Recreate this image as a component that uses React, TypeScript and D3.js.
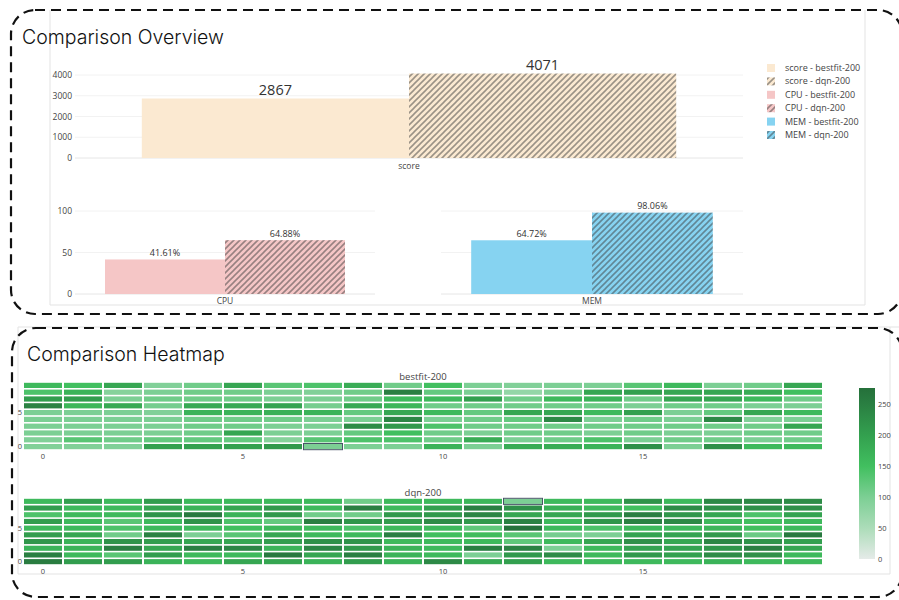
import React from 'react';
import * as d3 from 'd3';

// ---------- DATA ----------
const scoreCategories = ['score'];
const scoreBestfit = [2867];
const scoreDqn = [4071];
const scoreTicks = [0, 1000, 2000, 3000, 4000];

const resourceCategories = ['CPU', 'MEM'];
const resourceBestfit = [41.61, 64.72];
const resourceDqn = [64.88, 98.06];
const resourceTicks = [0, 50, 100];

const seriesNames = ['bestfit-200', 'dqn-200'];
const legendItems = [
  'score - bestfit-200',
  'score - dqn-200',
  'CPU - bestfit-200',
  'CPU - dqn-200',
  'MEM - bestfit-200',
  'MEM - dqn-200',
];

const heatColumns = d3.range(20);
const heatRows = d3.range(10);
const heatXTicks = [0, 5, 10, 15];
const heatYTicks = [0, 5];
const colorbarTicks = [0, 50, 100, 150, 200, 250];

// rows listed top (row 9) to bottom (row 0)
const bestfitRowsTopDown = [
  [160, 150, 190, 95, 110, 190, 130, 140, 180, 110, 150, 100, 95, 100, 100, 130, 160, 100, 110, 190],
  [140, 170, 90, 100, 110, 110, 100, 95, 110, 250, 120, 100, 75, 100, 190, 200, 190, 190, 180, 150],
  [205, 205, 100, 110, 110, 110, 100, 100, 110, 160, 160, 200, 110, 160, 170, 110, 190, 190, 160, 110],
  [245, 165, 185, 105, 185, 185, 195, 105, 185, 165, 110, 110, 110, 110, 110, 100, 110, 110, 100, 100],
  [100, 100, 100, 95, 170, 170, 175, 170, 120, 190, 160, 120, 190, 190, 160, 200, 100, 120, 190, 160],
  [100, 100, 100, 100, 110, 110, 110, 100, 100, 240, 100, 110, 120, 235, 100, 110, 100, 235, 95, 100],
  [100, 100, 100, 100, 110, 110, 100, 100, 230, 210, 140, 110, 110, 110, 110, 110, 110, 110, 110, 190],
  [100, 100, 100, 100, 110, 190, 100, 100, 120, 150, 110, 100, 110, 110, 100, 110, 100, 100, 110, 110],
  [95, 130, 110, 120, 120, 120, 90, 130, 140, 140, 110, 180, 100, 110, 140, 100, 110, 110, 100, 110],
  [95, 95, 95, 200, 200, 200, 210, 100, 100, 100, 170, 100, 180, 180, 170, 225, 100, 225, 160, 160],
];

const dqnRowsTopDown = [
  [160, 200, 160, 205, 160, 160, 160, 160, 110, 160, 160, 165, 100, 160, 160, 220, 160, 235, 235, 230],
  [205, 160, 160, 190, 170, 190, 210, 160, 250, 160, 200, 250, 225, 175, 160, 150, 230, 225, 225, 225],
  [140, 160, 160, 220, 260, 170, 210, 110, 110, 210, 210, 240, 190, 190, 210, 250, 215, 190, 140, 195],
  [205, 160, 130, 160, 220, 140, 120, 250, 215, 205, 230, 210, 245, 160, 215, 245, 235, 160, 150, 160],
  [160, 160, 140, 160, 160, 150, 160, 160, 140, 160, 160, 125, 272, 160, 140, 160, 160, 165, 150, 160],
  [205, 190, 110, 245, 100, 130, 190, 160, 160, 250, 150, 155, 130, 105, 100, 195, 195, 210, 115, 260],
  [215, 170, 220, 205, 190, 190, 205, 225, 220, 160, 160, 160, 125, 160, 190, 225, 190, 240, 220, 200],
  [170, 170, 250, 190, 250, 240, 170, 240, 210, 170, 160, 250, 245, 100, 160, 195, 195, 215, 250, 190],
  [250, 160, 130, 205, 160, 160, 260, 190, 250, 170, 160, 100, 210, 230, 160, 210, 200, 230, 225, 160],
  [255, 205, 205, 170, 160, 190, 190, 170, 205, 170, 235, 185, 200, 160, 160, 160, 160, 170, 160, 160],
];

const bestfitHighlight = { col: 7, row: 0 };
const dqnHighlight = { col: 12, row: 9 };

// ---------- STYLE ----------
const FONT = '"Open Sans", "Noto Sans", sans-serif';
const TITLE_FONT = 'Inter, "Open Sans", sans-serif';
const resourceColors: Record<string, string> = {
  score: '#fbe9d1',
  CPU: '#f5c6c6',
  MEM: '#86d3f1',
};

const colorDomain = [0, 50, 100, 150, 200, 250, 276];
const colorRange = ['#e5ebe8', '#acdcb9', '#7ccf94', '#41bf5f', '#33a04f', '#2a7f42', '#25703a'];
const heatColor = d3.scaleLinear<string>().domain(colorDomain).range(colorRange).clamp(true);

function HatchDefs() {
  return (
    <defs>
      {Object.keys(resourceColors).map((k) => (
        <pattern key={k} id={`hatch-${k}`} patternUnits="userSpaceOnUse" width={6} height={6}>
          <rect width={6} height={6} fill={resourceColors[k]} />
          <path d="M0,6 L6,0 M-1.5,1.5 L1.5,-1.5 M4.5,7.5 L7.5,4.5" stroke="rgba(60,60,60,0.5)" strokeWidth={1.6} />
        </pattern>
      ))}
      <linearGradient id="cbar" x1="0" y1="1" x2="0" y2="0">
        {colorDomain.map((v, i) => (
          <stop key={i} offset={v / 276} stopColor={colorRange[i]} />
        ))}
      </linearGradient>
    </defs>
  );
}

function BarGroup({ cat, bx, yScale, vals, labels }: any) {
  const x1 = d3.scaleBand<string>().domain(seriesNames).range([0, bx.bandwidth()]);
  const x0 = bx(cat)!;
  const y0 = yScale(0);
  return (
    <g>
      {seriesNames.map((s, i) => {
        const v = vals[i];
        const x = x0 + x1(s)!;
        const y = yScale(v);
        return (
          <g key={s}>
            <rect
              x={x}
              y={y}
              width={x1.bandwidth()}
              height={y0 - y}
              fill={i === 0 ? resourceColors[cat] : `url(#hatch-${cat})`}
            />
            <text
              x={x + x1.bandwidth() / 2}
              y={y - 3.5}
              textAnchor="middle"
              fontSize={labels.size}
              fill="#333"
              fontFamily={FONT}
            >
              {labels.text[i]}
            </text>
          </g>
        );
      })}
    </g>
  );
}

function Heatmap({ title, rowsTopDown, top, bottom, highlight }: any) {
  const x = d3.scaleBand<number>().domain(heatColumns).range([23, 823]);
  const y = d3.scaleBand<number>().domain(heatRows).range([bottom, top]);
  const cells: any[] = [];
  rowsTopDown.forEach((row: number[], i: number) => {
    const r = heatRows.length - 1 - i;
    row.forEach((v, c) => cells.push({ r, c, v }));
  });
  const gx = 1;
  const gy = 0.8;
  return (
    <g>
      <text x={423} y={top - 2.5} textAnchor="middle" fontSize={9.5} fill="#444" fontFamily={FONT}>
        {title}
      </text>
      {cells.map((d) => (
        <rect
          key={`${d.r}-${d.c}`}
          x={x(d.c)! + gx}
          y={y(d.r)! + gy}
          width={x.bandwidth() - 2 * gx}
          height={y.bandwidth() - 2 * gy}
          fill={heatColor(d.v)}
        />
      ))}
      <rect
        x={x(highlight.col)! + 0.5}
        y={y(highlight.row)! + 0.3}
        width={x.bandwidth() - 1}
        height={y.bandwidth() - 0.6}
        fill="none"
        stroke="#4a5568"
        strokeWidth={1}
      />
      {heatXTicks.map((t) => (
        <text
          key={t}
          x={x(t)! + x.bandwidth() / 2}
          y={bottom + 9}
          textAnchor="middle"
          fontSize={7.5}
          fill="#444"
          fontFamily={FONT}
        >
          {t}
        </text>
      ))}
      {heatYTicks.map((t) => (
        <text
          key={t}
          x={22}
          y={y(t)! + y.bandwidth() / 2 + 2.6}
          textAnchor="end"
          fontSize={7.5}
          fill="#444"
          fontFamily={FONT}
        >
          {t}
        </text>
      ))}
    </g>
  );
}

export default function App() {
  // score subplot
  const scoreX = d3.scaleBand<string>().domain(scoreCategories).range([75, 743]).paddingInner(0.2).paddingOuter(0.1);
  const scoreY = d3.scaleLinear().domain([0, 4000]).range([158, 75]);
  // resource subplots
  const resY = d3.scaleLinear().domain([0, 100]).range([294, 211]);
  const resRanges: Record<string, [number, number]> = { CPU: [75, 375], MEM: [441, 743] };
  const cbY = d3.scaleLinear().domain([0, 276]).range([559, 388]);

  return (
    <svg
      width={899}
      height={600}
      style={{ position: 'absolute', left: 0, top: 0, background: '#fff' }}
      fontFamily={FONT}
    >
      <HatchDefs />
      {/* containers */}
      <g stroke="#e3e3e3" strokeWidth={1} fill="none">
        <line x1={50} y1={10} x2={50} y2={305} />
        <line x1={865} y1={10} x2={865} y2={305} />
        <line x1={50} y1={305} x2={865} y2={305} />
        <line x1={18} y1={327} x2={899} y2={327} />
        <line x1={18} y1={327} x2={18} y2={574} />
        <line x1={18} y1={574} x2={890} y2={574} />
        <line x1={890} y1={327} x2={890} y2={574} />
      </g>

      {/* titles */}
      <text x={22} y={44} fontSize={19.5} fontWeight={300} fill="#111" fontFamily={TITLE_FONT}>
        Comparison Overview
      </text>
      <text x={27} y={361} fontSize={19.5} fontWeight={300} fill="#111" fontFamily={TITLE_FONT}>
        Comparison Heatmap
      </text>

      {/* score subplot */}
      {scoreTicks.map((t) => (
        <g key={t}>
          <line x1={75} x2={743} y1={scoreY(t)} y2={scoreY(t)} stroke={t === 0 ? '#e6e6e6' : '#f2f2f2'} strokeWidth={1} />
          <text x={72} y={scoreY(t) + 3} textAnchor="end" fontSize={8.5} fill="#444">
            {t}
          </text>
        </g>
      ))}
      {scoreCategories.map((c, i) => (
        <g key={c}>
          <BarGroup
            cat={c}
            bx={scoreX}
            yScale={scoreY}
            vals={[scoreBestfit[i], scoreDqn[i]]}
            labels={{ size: 14.5, text: [String(scoreBestfit[i]), String(scoreDqn[i])] }}
          />
          <text x={scoreX(c)! + scoreX.bandwidth() / 2} y={168.5} textAnchor="middle" fontSize={8.5} fill="#444">
            {c}
          </text>
        </g>
      ))}

      {/* resource subplots */}
      {resourceCategories.map((c, i) => {
        const [a, b] = resRanges[c];
        const bx = d3.scaleBand<string>().domain([c]).range([a, b]).paddingInner(0.2).paddingOuter(0.1);
        return (
          <g key={c}>
            {resourceTicks.map((t) => (
              <line key={t} x1={a} x2={b} y1={resY(t)} y2={resY(t)} stroke={t === 0 ? '#e6e6e6' : '#f2f2f2'} strokeWidth={1} />
            ))}
            <BarGroup
              cat={c}
              bx={bx}
              yScale={resY}
              vals={[resourceBestfit[i], resourceDqn[i]]}
              labels={{ size: 9, text: [`${resourceBestfit[i].toFixed(2)}%`, `${resourceDqn[i].toFixed(2)}%`] }}
            />
            <text x={bx(c)! + bx.bandwidth() / 2} y={303.5} textAnchor="middle" fontSize={8.5} fill="#444">
              {c}
            </text>
          </g>
        );
      })}
      {resourceTicks.map((t) => (
        <text key={t} x={72} y={resY(t) + 3} textAnchor="end" fontSize={8.5} fill="#444">
          {t}
        </text>
      ))}

      {/* legend */}
      {legendItems.map((name, i) => {
        const cat = name.split(' - ')[0];
        const hatched = i % 2 === 1;
        const cy = 68 + i * 13.4;
        return (
          <g key={name}>
            <rect x={767} y={cy - 4} width={8} height={8} fill={hatched ? `url(#hatch-${cat})` : resourceColors[cat]} />
            <text x={785} y={cy + 3} fontSize={9} fill="#444">
              {name}
            </text>
          </g>
        );
      })}

      {/* heatmaps */}
      <Heatmap title="bestfit-200" rowsTopDown={bestfitRowsTopDown} top={382} bottom={450} highlight={bestfitHighlight} />
      <Heatmap title="dqn-200" rowsTopDown={dqnRowsTopDown} top={498} bottom={565} highlight={dqnHighlight} />

      {/* colorbar */}
      <rect x={859} y={cbY(276)} width={16} height={cbY(0) - cbY(276)} fill="url(#cbar)" />
      {colorbarTicks.map((t) => (
        <text key={t} x={878} y={cbY(t) + 2.6} fontSize={7.5} fill="#444">
          {t}
        </text>
      ))}

      {/* dashed annotation boxes */}
      <rect x={11} y={10} width={891} height={304} rx={24} fill="none" stroke="#111" strokeWidth={2.2} strokeDasharray="10 6" />
      <rect x={12} y={328} width={890} height={269} rx={24} fill="none" stroke="#111" strokeWidth={2.2} strokeDasharray="10 6" />
    </svg>
  );
}
